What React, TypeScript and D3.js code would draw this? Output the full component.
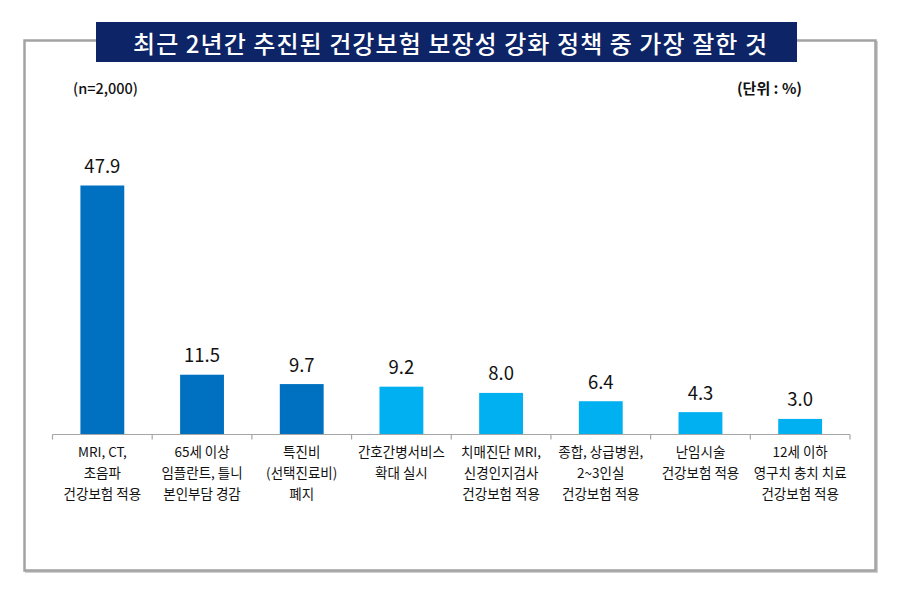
import React from "react";
import * as d3 from "d3";

const categories: string[][] = [
  ["MRI, CT,", "초음파", "건강보험 적용"],
  ["65세 이상", "임플란트, 틀니", "본인부담 경감"],
  ["특진비", "(선택진료비)", "폐지"],
  ["간호간병서비스", "확대 실시"],
  ["치매진단 MRI,", "신경인지검사", "건강보험 적용"],
  ["종합, 상급병원,", "2~3인실", "건강보험 적용"],
  ["난임시술", "건강보험 적용"],
  ["12세 이하", "영구치 충치 치료", "건강보험 적용"],
];
const values: number[] = [47.9, 11.5, 9.7, 9.2, 8.0, 6.4, 4.3, 3.0];
const colorGroup: number[] = [0, 0, 0, 1, 1, 1, 1, 1];
const palette = ["#0070c0", "#00b0f0"];
const title = "최근 2년간 추진된 건강보험 보장성 강화 정책 중 가장 잘한 것";
const sampleNote = "(n=2,000)";
const unitNote = "(단위 : %)";

const W = 901;
const H = 590;
const FONT = "'Noto Sans CJK KR', 'Noto Sans', sans-serif";

export default function App() {
  const x = d3
    .scaleBand<number>()
    .domain(values.map((_, i) => i))
    .range([52.5, 850])
    .paddingInner(0.56)
    .paddingOuter(0.28);
  const baseline = 434.5;
  const y = d3.scaleLinear().domain([0, 47.9]).range([baseline, 185.5]);
  const step = x.step();
  const left = 52.5;

  return (
    <svg
      width={W}
      height={H}
      style={{ position: "absolute", left: 0, top: 0, background: "#fff" }}
      fontFamily={FONT}
    >
      <rect x={0} y={0} width={W} height={H} fill="#fff" />
      {/* frame */}
      <rect x={26} y={42} width={851} height={530} fill="none" stroke="#cfcfcf" strokeWidth={2} />
      <rect x={24.5} y={40.5} width={851} height={530} fill="#fff" stroke="#a3a3a3" strokeWidth={2.5} />
      {/* title box */}
      <rect x={96} y={22} width={701} height={40} fill="#0d2466" />
      <text
        x={450}
        y={42.5}
        textAnchor="middle"
        dominantBaseline="central"
        fill="#fff"
        fontSize={24}
        fontWeight={500}
        textLength={634}
        lengthAdjust="spacing"
      >
        {title}
      </text>
      <text x={73} y={94} fontSize={14.5} fontWeight={500} fill="#111">
        {sampleNote}
      </text>
      <text x={802} y={94} fontSize={15} fontWeight={700} fill="#111" textAnchor="end">
        {unitNote}
      </text>
      {/* bars */}
      {values.map((v, i) => (
        <g key={i}>
          <rect
            x={x(i)}
            y={y(v)}
            width={x.bandwidth()}
            height={baseline - y(v)}
            fill={palette[colorGroup[i]]}
          />
          <text
            x={(x(i) as number) + x.bandwidth() / 2}
            y={y(v) - 12.5}
            textAnchor="middle"
            fontSize={18.5}
            fill="#111"
          >
            {v.toFixed(1)}
          </text>
        </g>
      ))}
      {/* axis */}
      <line x1={left} x2={left + step * values.length} y1={baseline} y2={baseline} stroke="#a6a6a6" strokeWidth={1.2} />
      {d3.range(values.length + 1).map((k) => (
        <line
          key={k}
          x1={left + k * step}
          x2={left + k * step}
          y1={baseline}
          y2={baseline + 5}
          stroke="#a6a6a6"
          strokeWidth={1.2}
        />
      ))}
      {categories.map((lines, i) => (
        <text
          key={i}
          x={(x(i) as number) + x.bandwidth() / 2}
          textAnchor="middle"
          fontSize={13.5}
          fill="#111"
        >
          {lines.map((l, j) => (
            <tspan key={j} x={(x(i) as number) + x.bandwidth() / 2} y={457 + j * 21}>
              {l}
            </tspan>
          ))}
        </text>
      ))}
    </svg>
  );
}
